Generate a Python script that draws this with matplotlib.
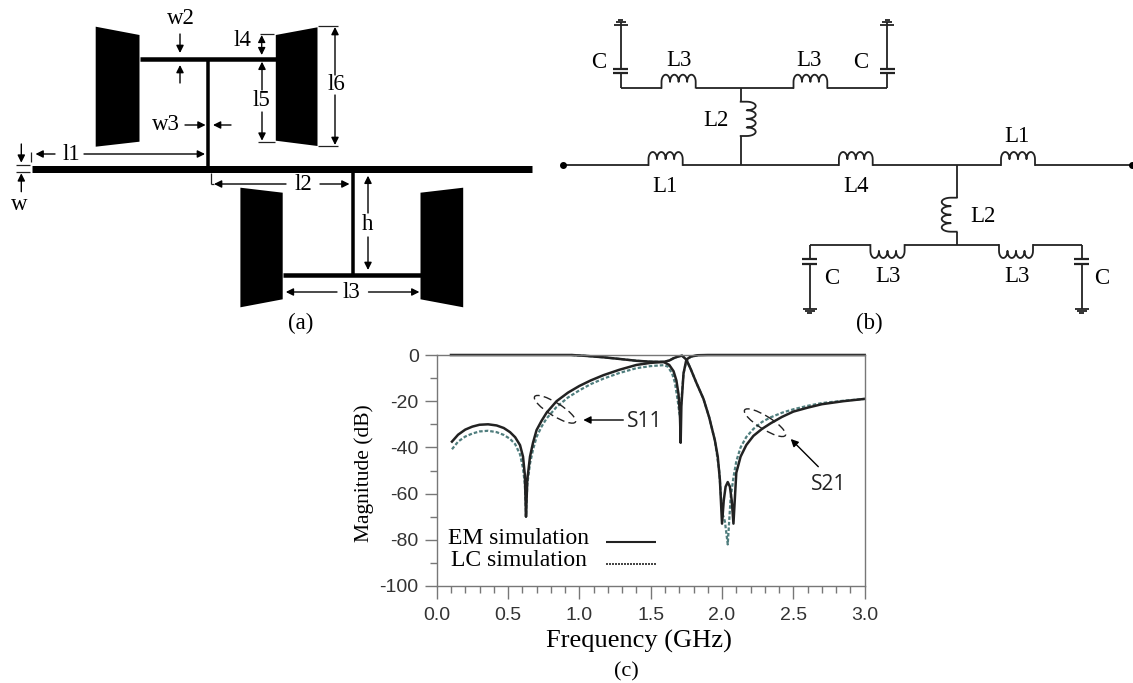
import numpy as np
import matplotlib
matplotlib.use("Agg")
from matplotlib import pyplot as plt
from matplotlib.patches import Ellipse, Polygon

# Curvas de la grafica (c): frecuencia en GHz, magnitud en dB
s11_em_f = [0.107, 0.15, 0.2, 0.25, 0.3, 0.36, 0.42, 0.47, 0.514, 0.55, 0.584, 0.605, 0.618, 0.626, 0.635, 0.654, 0.675, 0.7, 0.735, 0.77, 0.84, 0.92, 1.0, 1.08, 1.17, 1.28, 1.4, 1.5, 1.59, 1.63, 1.66, 1.68, 1.695, 1.705, 1.71, 1.715, 1.73, 1.75, 1.78, 1.83, 1.9, 3.0]
s11_em_db = [-37.5, -34.5, -32.3, -31, -30.2, -30, -30.5, -31.6, -33.4, -35.6, -39, -44, -52, -70, -54, -44, -38, -32.5, -28.5, -25, -20, -16.3, -13.4, -11, -8.7, -6.4, -4.3, -3.4, -3, -4.3, -7, -11, -17, -26, -38, -22, -8, -2, -0.7, -0.1, 0, 0]
s11_lc_f = [0.107, 0.15, 0.2, 0.25, 0.3, 0.36, 0.42, 0.47, 0.514, 0.55, 0.584, 0.605, 0.618, 0.626, 0.635, 0.654, 0.675, 0.7, 0.735, 0.77, 0.84, 0.92, 1.0, 1.08, 1.17, 1.28, 1.4, 1.5, 1.59, 1.62, 1.65, 1.67, 1.69, 1.705, 1.715, 1.73, 1.75, 1.78, 1.83]
s11_lc_db = [-40.8, -37.5, -35.3, -34, -33.1, -32.8, -33.4, -34.6, -36.3, -38.6, -43, -49, -56, -70, -56, -47, -41, -35.5, -31, -27.5, -22.5, -18.4, -15.3, -12.6, -10.2, -7.8, -5.7, -4.8, -4.4, -5, -8, -12, -20, -27, -20, -8, -2.5, -0.8, -0.1]
s21_em_f = [0.1, 0.945, 1.05, 1.17, 1.28, 1.4, 1.5, 1.59, 1.63, 1.66, 1.69, 1.72, 1.75, 1.78, 1.82, 1.87, 1.91, 1.95, 1.97, 1.985, 2.0, 2.012, 2.025, 2.04, 2.055, 2.068, 2.08, 2.09, 2.1, 2.13, 2.17, 2.22, 2.28, 2.34, 2.42, 2.5, 2.6, 2.7, 2.85, 3.0]
s21_em_db = [0, 0, -0.4, -1, -1.7, -2.5, -2.9, -3, -2.4, -1.4, -0.7, -0.3, -2, -6, -12, -19, -27, -37, -44, -54, -73, -63, -57, -55, -57, -63, -73, -62, -51, -44, -39, -35, -32, -29.6, -26.8, -24.5, -22.8, -21.3, -20, -19]
s21_lc_f = [0.945, 1.05, 1.17, 1.28, 1.4, 1.5, 1.59, 1.63, 1.66, 1.69, 1.72, 1.75, 1.78, 1.82, 1.87, 1.91, 1.95, 1.98, 2.0, 2.02, 2.04, 2.05, 2.06, 2.08, 2.1, 2.13, 2.17, 2.22, 2.28, 2.34, 2.42, 2.5, 2.6, 2.7, 2.85, 3.0]
s21_lc_db = [0, -0.4, -1, -1.7, -2.5, -2.9, -3, -2.4, -1.4, -0.7, -0.3, -2, -6, -12, -19, -27, -37, -50, -68, -72, -82, -72, -62, -53, -46, -40, -35.5, -32, -29, -27, -25, -23.5, -22, -20.8, -19.8, -19]

x_ticks = [0.0, 0.5, 1.0, 1.5, 2.0, 2.5, 3.0]
x_tick_labels = ["0.0", "0.5", "1.0", "1.5", "2.0", "2.5", "3.0"]
y_ticks = [0, -20, -40, -60, -80, -100]
y_tick_labels = ["0", "-20", "-40", "-60", "-80", "-100"]

# Textos de los esquemas: (x, y, texto) en pixeles de la imagen
layout_labels = [
    (181, 18, "w2"), (242, 40, "l4"), (261, 100, "l5"), (336, 85, "l6"),
    (166, 125, "w3"), (71, 154, "l1"), (19, 205, "w"), (303, 184, "l2"),
    (368, 224, "h"), (351, 292, "l3"), (301, 323, "(a)"),
]
circuit_labels = [
    (599, 62, "C"), (679, 60, "L3"), (809, 60, "L3"), (861, 63, "C"),
    (716, 121, "L2"), (665, 186, "L1"), (856, 187, "L4"), (1017, 137, "L1"),
    (983, 217, "L2"), (888, 277, "L3"), (1017, 277, "L3"), (832, 278, "C"),
    (1102, 278, "C"), (869, 323, "(b)"),
]

# Parches negros del layout (a)
patches_a = [
    [(95.7, 26.7), (139.5, 35), (139.5, 141.7), (95.7, 146.7)],
    [(275.8, 35), (317.5, 27.3), (317.5, 146), (275.8, 140.7)],
    [(240.4, 187.7), (282.7, 192.7), (282.7, 299.3), (240.4, 307.3)],
    [(420.5, 192.7), (463.2, 187.7), (463.2, 307.3), (420.5, 299.3)],
]
# Lineas del layout: x0, y0, x1, y1, grosor en pixeles
traces_a = [
    (31.7, 168.8, 532, 168.8, 7), (139.5, 58.7, 275.8, 58.7, 4.5),
    (208, 58.7, 208, 166, 3.5), (352.6, 170, 352.6, 275, 3.5),
    (282.7, 275, 420.5, 275, 4.5),
]
# Flechas de cotas: desde (x0, y0) hasta (x1, y1)
arrows_a = [
    (180, 34, 180, 53), (180, 83, 180, 65), (185, 125, 205.6, 125), (231, 125, 213, 125),
    (262, 90, 262, 61.7), (262, 112, 262, 140.7), (335, 75, 335, 27), (335, 95, 335, 145),
    (55, 154, 35.5, 154), (84, 154, 205, 154), (21.3, 144, 21.3, 162.7), (21.3, 191.7, 21.3, 173.3),
    (286, 184, 214, 184), (320, 184, 349.5, 184), (368, 213, 368, 175.7), (368, 237, 368, 270),
    (337, 292, 285.8, 292), (368.5, 292, 419.4, 292),
]
ticks_a = [
    (260, 34.3, 274, 34.3), (258, 142, 275, 142), (317.5, 25.7, 338, 25.7), (317.5, 146, 338, 146),
    (31, 152, 31, 162), (15.5, 165, 30, 165), (15.5, 171.7, 30, 171.7), (210.7, 173, 210.7, 184),
]

plt.rcParams["font.family"] = ["Liberation Serif", "DejaVu Sans"]
fig = plt.figure(figsize=(11.33, 6.83), dpi=100)

# Grafica (c)
ax = fig.add_axes([436.7 / 1133, 1 - 586 / 683, 428 / 1133, 231 / 683])
ax.plot(s11_lc_f, s11_lc_db, color="#4f7d7d", lw=1.6, ls=(0, (1.6, 0.9)), clip_on=False)
ax.plot(s21_lc_f, s21_lc_db, color="#4f7d7d", lw=1.6, ls=(0, (1.6, 0.9)), clip_on=False)
ax.plot(s11_em_f, s11_em_db, color="#222222", lw=1.8, clip_on=False)
ax.plot(s21_em_f, s21_em_db, color="#222222", lw=1.8, clip_on=False)
ax.set_xlim(0, 3)
ax.set_ylim(-100, 0)
ax.set_xticks(x_ticks)
ax.set_xticklabels(x_tick_labels, family="Liberation Sans", fontsize=14, color="#333333")
ax.set_yticks(y_ticks)
ax.set_yticklabels(y_tick_labels, family="Liberation Sans", fontsize=14, color="#333333")
ax.set_xticks(np.arange(0, 3.01, 0.1), minor=True)
ax.set_yticks(np.arange(-100, 1, 10), minor=True)
ax.tick_params(which="major", length=9, width=1, color="#777777", pad=4)
ax.tick_params(axis="x", which="major", pad=6)
ax.tick_params(which="minor", length=5, width=1, color="#777777")
for spine in ax.spines.values():
    spine.set_color("#777777")
    spine.set_linewidth(1)

# Capa en pixeles para los esquemas y anotaciones
ov = fig.add_axes([0, 0, 1, 1], zorder=5)
ov.set_xlim(0, 1133)
ov.set_ylim(683, 0)
ov.axis("off")
ov.patch.set_alpha(0)


def seg(x0, y0, x1, y1, lw=1.3, color="#222222"):
    ov.plot([x0, x1], [y0, y1], color=color, lw=lw, solid_capstyle="butt")


def arrow(x0, y0, x1, y1, lw=1.0):
    ov.annotate("", xy=(x1, y1), xytext=(x0, y0),
                arrowprops=dict(arrowstyle="-|>", color="black", lw=lw, mutation_scale=11,
                                shrinkA=0, shrinkB=0))


def inductor(x0, x1, y, side=-1, lead=13, n=4):
    # Bobina horizontal: side -1 arriba, +1 abajo
    w = (x1 - x0) / n
    xs, ys = [x0, x0], [y, y + side * lead * 0.45]
    for k in range(n):
        t = np.linspace(np.pi, 0, 16)
        xs += list(x0 + w * (k + 0.5) + w / 2 * np.cos(t))
        ys += list(y + side * lead * 0.45 + side * lead * 0.55 * np.sin(t))
    xs += [x1, x1]
    ys += [y + side * lead * 0.45, y]
    ov.plot(xs, ys, color="#222222", lw=1.3)


def inductor_v(x, y0, y1, side=1, lead=15, n=4):
    # Bobina vertical: side +1 derecha, -1 izquierda
    h = (y1 - y0) / n
    xs, ys = [x, x + side * lead * 0.4], [y0, y0]
    for k in range(n):
        t = np.linspace(-np.pi / 2, np.pi / 2, 16)
        xs += list(x + side * lead * 0.4 + side * lead * 0.6 * np.cos(t))
        ys += list(y0 + h * (k + 0.5) + h / 2 * np.sin(t))
    xs += [x + side * lead * 0.4, x]
    ys += [y1, y1]
    ov.plot(xs, ys, color="#222222", lw=1.3)


def capacitor(x, y0, y1):
    seg(x - 7.5, y0, x + 7.5, y0, lw=1.6)
    seg(x - 7.5, y1, x + 7.5, y1, lw=1.6)


def ground(x, ys, widths):
    for y, w in zip(ys, widths):
        seg(x - w, y, x + w, y, lw=1.3)


# (a) layout
for pts in patches_a:
    ov.add_patch(Polygon(pts, closed=True, facecolor="black", edgecolor="none"))
for x0, y0, x1, y1, w in traces_a:
    seg(x0, y0, x1, y1, lw=w * 0.72, color="black")
for a in arrows_a:
    arrow(*a)
for t in ticks_a:
    seg(*t, lw=0.9)
seg(210.7, 184, 214, 184, lw=0.9)
arrow(261.7, 45, 261.7, 35, lw=0.9)
arrow(261.7, 45, 261.7, 55, lw=0.9)
for x, y, s in layout_labels:
    ov.text(x, y, s, fontsize=16.5, ha="center", va="center")

# (b) circuito
main_y = 165
seg(563, main_y, 648.5, main_y)
inductor(648.5, 682.7, main_y)
seg(682.7, main_y, 838.9, main_y)
inductor(838.9, 872.7, main_y)
seg(872.7, main_y, 1001, main_y)
inductor(1001, 1035, main_y)
seg(1035, main_y, 1133, main_y)
ov.plot([563, 1132], [main_y, main_y], "o", color="black", ms=4)

# rama superior
seg(740.7, main_y, 740.7, 136)
inductor_v(740.7, 101.7, 136, side=1)
seg(740.7, 101.7, 740.7, 87.7)
seg(620.6, 87.7, 661.5, 87.7)
inductor(661.5, 695.7, 87.7)
seg(695.7, 87.7, 793.5, 87.7)
inductor(793.5, 827.3, 87.7)
seg(827.3, 87.7, 887, 87.7)
for xc in (620.6, 887):
    seg(xc, 87.7, xc, 73)
    capacitor(xc, 73, 68.5)
    seg(xc, 68.5, xc, 22)
    ground(xc, [24.5, 22.3, 20], [7, 5, 2.5])

# rama inferior
seg(956.7, main_y, 956.7, 197.7)
inductor_v(956.7, 197.7, 231.7, side=-1)
seg(956.7, 231.7, 956.7, 245)
seg(809.5, 245, 870.4, 245)
inductor(870.4, 904.6, 245, side=1)
seg(904.6, 245, 999, 245)
inductor(999, 1033, 245, side=1)
seg(1033, 245, 1081.6, 245)
for xc in (809.5, 1081.6):
    seg(xc, 245, xc, 259.3)
    capacitor(xc, 259.3, 264)
    seg(xc, 264, xc, 309)
    ground(xc, [309, 311, 313], [7, 5, 2.5])
for x, y, s in circuit_labels:
    ov.text(x, y, s, fontsize=16.5, ha="center", va="center")

# Anotaciones de (c)
for cx, cy in [(555, 409.3), (765, 422.7)]:
    ov.add_patch(Ellipse((cx, cy), 48, 13, angle=32, fill=False, edgecolor="#222222", lw=1.0,
                         ls=(0, (6, 3))))
arrow(623.3, 420, 583.3, 420)
arrow(818.3, 466.7, 790.7, 439)
ov.text(645, 421.5, "S11", fontsize=15, family="Open Sans", ha="center", va="center", color="#222222")
ov.text(828.3, 484, "S21", fontsize=15, family="Open Sans", ha="center", va="center", color="#222222")
ov.text(448.3, 539, "EM simulation", fontsize=17, ha="left", va="center")
ov.text(451, 561, "LC simulation", fontsize=17, ha="left", va="center")
seg(605.7, 542, 656, 542, lw=1.5)
ov.plot([605.7, 656], [563.7, 563.7], color="#222222", lw=1.2, ls=(0, (1.2, 0.6)))
ov.text(639, 641.5, "Frequency (GHz)", fontsize=19, ha="center", va="center")
ov.text(364, 473, "Magnitude (dB)", fontsize=15.5, rotation=90, ha="center", va="center")
ov.text(626.7, 671.5, "(c)", fontsize=16, ha="center", va="center")

fig.savefig("out.png", dpi=100)
